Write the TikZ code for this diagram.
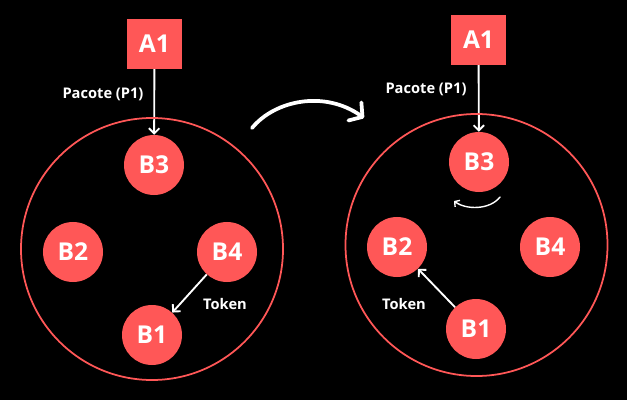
\documentclass[tikz,border=0pt]{standalone}
\usepackage{fontspec}
\setmainfont{Open Sans}
\usetikzlibrary{arrows.meta}
\definecolor{coral}{HTML}{FF5757}
\pgfdeclarelayer{bg}
\pgfsetlayers{bg,main}

\begin{document}
\begin{tikzpicture}[x=0.03cm, y=-0.03cm,
  host/.style={circle, fill=coral, minimum size=1.8cm, inner sep=0pt, text=white,
    font=\bfseries\fontsize{21}{24}\selectfont},
  src/.style={rectangle, fill=coral, minimum width=1.65cm, minimum height=1.5cm,
    inner sep=0pt, text=white, font=\bfseries\fontsize{21}{24}\selectfont},
  ring/.style={circle, draw=coral, line width=1.5pt, minimum size=7.86cm, inner sep=0pt},
  lbl/.style={text=white, inner sep=0pt, font=\bfseries\fontsize{12.5}{15}\selectfont},
  pkt/.style={draw=white, line width=1.6pt, -{Straight Barb[length=4.5pt,width=9pt]}},
  turn/.style={draw=white, line width=3.2pt, line cap=round,
    -{Straight Barb[length=8pt,width=19pt,round]}},
  spin/.style={draw=white, line width=1.2pt, line cap=round,
    -{Straight Barb[length=3pt,width=7pt]}}]

  % before: token held by B4
  \node (lring) [ring] at (152, 249) {};
  \node (la1) [src] at (154.5, 44) {A1};
  \node (lb3) [host] at (154, 165) {B3};
  \node (lb2) [host] at (73, 252) {B2};
  \node (lb4) [host] at (227, 252) {B4};
  \node (lb1) [host] at (152, 335) {B1};
  \node (lpac) [lbl] at (103, 94) {Pacote (P1)};
  \node (ltok) [lbl] at (225, 304) {Token};

  % after: token passed on to B2
  \node (rring) [ring] at (476.5, 245) {};
  \node (ra1) [src] at (478.5, 40) {A1};
  \node (rb3) [host] at (479, 162) {B3};
  \node (rb2) [host] at (397, 247) {B2};
  \node (rb4) [host] at (550, 247) {B4};
  \node (rb1) [host] at (476, 329) {B1};
  \node (rpac) [lbl] at (426, 89) {Pacote (P1)};
  \node (rtok) [lbl] at (404, 304) {Token};

  \coordinate (t0) at (252, 128);
  \coordinate (t1) at (364, 118);
  \coordinate (s0) at (500, 197);
  \coordinate (s1) at (454, 201);

  \begin{pgfonlayer}{bg}
    \fill[black] (0, 0) rectangle (627, 400);
    \draw[pkt] (la1) edge (lb3);
    \draw[pkt] (lb4) edge (lb1);
    \draw[pkt] (ra1) edge (rb3);
    \draw[pkt] (rb1) edge (rb2);
    \draw[turn] (t0) .. controls (275, 100) and (325, 90) .. (t1);
    \draw[spin] (s0) .. controls (490, 210) and (466, 210) .. (s1);
  \end{pgfonlayer}
\end{tikzpicture}
\end{document}
